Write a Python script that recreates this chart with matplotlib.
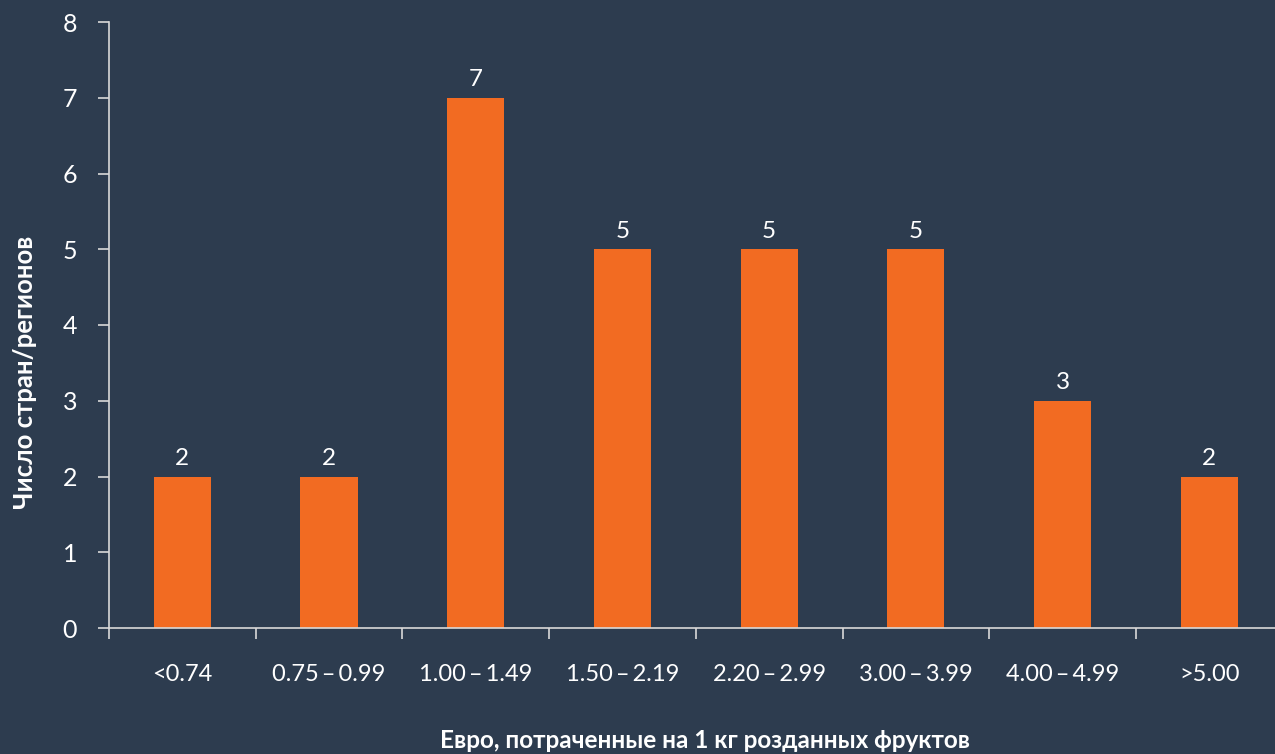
import matplotlib.pyplot as plt
from matplotlib.ticker import FixedLocator

categories = ['<0.74', '0.75\u2009–\u20090.99', '1.00\u2009–\u20091.49', '1.50\u2009–\u20092.19',
              '2.20\u2009–\u20092.99', '3.00\u2009–\u20093.99', '4.00\u2009–\u20094.99', '>5.00']
counts = [2, 2, 7, 5, 5, 5, 3, 2]

bg = '#2d3c4f'
bar_color = '#f26b22'
line_color = '#d9d9d9'

plt.rcParams['font.family'] = ['Lato', 'DejaVu Sans']

fig = plt.figure(figsize=(12.75, 7.54), dpi=100, facecolor=bg)
ax = fig.add_axes([109 / 1275, 126 / 754, 1173.6 / 1275, 606 / 754])
ax.set_facecolor(bg)

x = list(range(len(categories)))
bars = ax.bar(x, counts, width=0.39, color=bar_color, zorder=2)
for xi, v in zip(x, counts):
    ax.text(xi, v + 0.1, str(v), ha='center', va='bottom', color='white', fontsize=17.5)

ax.set_xlim(-0.5, len(categories) - 0.5)
ax.set_ylim(0, 8)
ax.set_yticks(range(0, 9))

ax.set_xticks(x)
ax.set_xticklabels(categories)
ax.xaxis.set_minor_locator(FixedLocator([i - 0.5 for i in range(len(categories) + 1)]))
ax.tick_params(axis='x', which='major', length=0, pad=26, labelsize=17, colors='white')
ax.tick_params(axis='x', which='minor', length=8, width=1.2, color=line_color, direction='out')
ax.tick_params(axis='y', length=8, width=1.2, color=line_color, pad=15, labelsize=18, labelcolor='white')

for side in ['top', 'right']:
    ax.spines[side].set_visible(False)
for side in ['left', 'bottom']:
    ax.spines[side].set_color(line_color)
    ax.spines[side].set_linewidth(1.2)

fig.text(705 / 1275, 1 - 741 / 754, 'Евро, потраченные на 1 кг розданных фруктов',
         ha='center', va='center', color='white', fontsize=17.5, fontweight='bold')
fig.text(25 / 1275, 1 - 372 / 754, 'Число стран/регионов', rotation=90,
         ha='center', va='center', color='white', fontsize=18.5, fontweight='bold')

fig.savefig('out.png', dpi=100, facecolor=bg)
